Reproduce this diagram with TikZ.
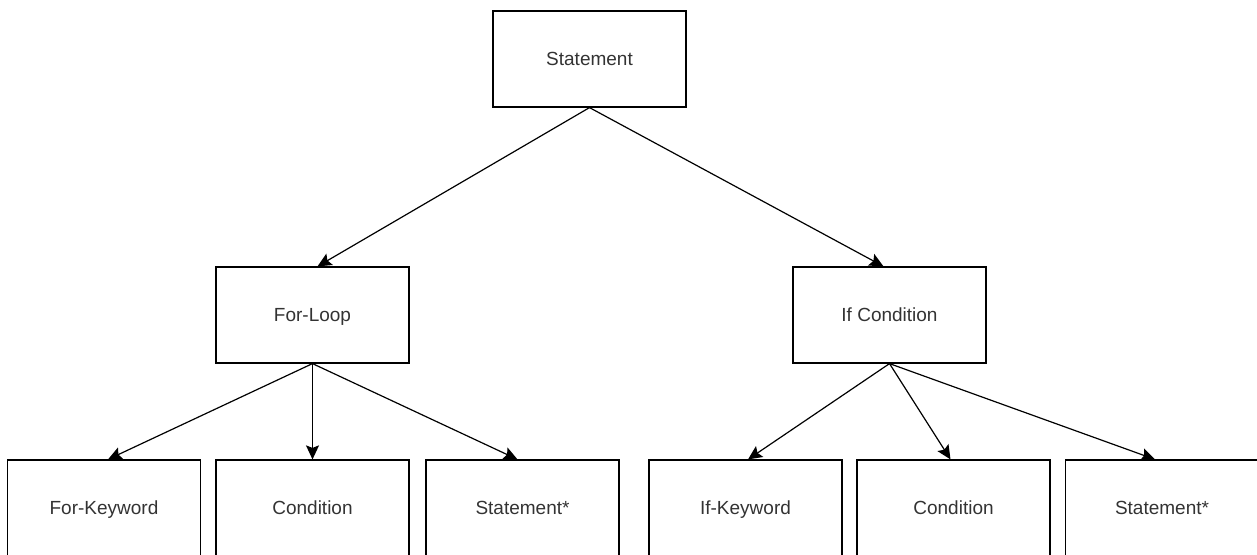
\documentclass[tikz,border=0pt]{standalone}
\usepackage{fontspec}
\setmainfont{Liberation Sans}
\usetikzlibrary{arrows.meta}
\begin{document}
\begin{tikzpicture}[x=1pt,y=-1pt,
  box/.style={draw=black, line width=1.2pt, minimum width=193pt, minimum height=96pt,
    inner sep=0pt, text height=13.5pt, text depth=0pt,
    font=\fontsize{19}{21}\selectfont, text=black!80},
  link/.style={line width=1.2pt, -{Stealth[length=14pt,width=13pt,inset=2.5pt]}}]
\useasboundingbox (0,0) rectangle (1257,554);
\clip (0,0) rectangle (1257,554);

% top level
\node[box] (root) at (589.5,59) {Statement};

% second level
\node[box] (forloop) at (312.5,315) {For-Loop};
\node[box] (ifcond)  at (889.5,315) {If Condition};

% leaves
\node[box] (forkw)   at (104,508)    {For-Keyword};
\node[box] (forcond) at (312.5,508)  {Condition};
\node[box] (forstmt) at (522.5,508)  {Statement*};
\node[box] (ifkw)    at (745.5,508)  {If-Keyword};
\node[box] (ifc)     at (953.5,508)  {Condition};
\node[box] (ifstmt)  at (1162,508)   {Statement*};

% connectors
\draw[link] (root.south) -- ([xshift=5pt]forloop.north);
\draw[link] (root.south) -- ([xshift=-6pt]ifcond.north);

\draw[link] (forloop.south) -- ([xshift=4pt]forkw.north);
\draw[link] (forloop.south) -- (forcond.north);
\draw[link] (forloop.south) -- ([xshift=-5pt]forstmt.north);

\draw[link] (ifcond.south) -- ([xshift=2.5pt]ifkw.north);
\draw[link] (ifcond.south) -- ([xshift=-3pt]ifc.north);
\draw[link] (ifcond.south) -- ([xshift=-7pt]ifstmt.north);
\end{tikzpicture}
\end{document}
